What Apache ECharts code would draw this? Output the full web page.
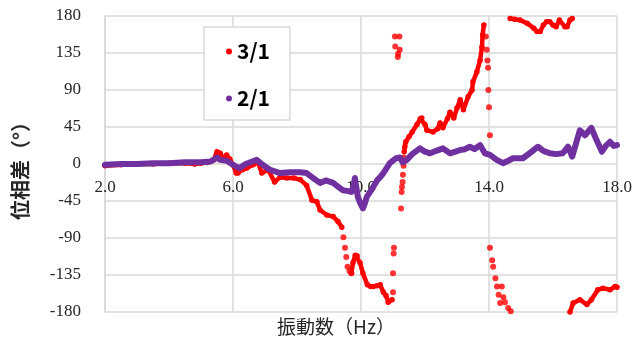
<!DOCTYPE html>
<html>
<head>
<meta charset="utf-8">
<script src="https://cdn.jsdelivr.net/npm/echarts@6/dist/echarts.min.js"></script>
<style>
  html, body { margin: 0; padding: 0; background: #ffffff; }
  #chart { width: 639px; height: 338px; }
</style>
</head>
<body>
<div id="chart"></div>
<script>
// Phase difference (deg) vs. vibration frequency (Hz) for two frequency ratios.

const xTicks = [2, 6, 10, 14, 18];
const yTicks = [-180, -135, -90, -45, 0, 45, 90, 135, 180];

// 3/1 — continuous stretch from 2 Hz down to about -77 deg near 9.4 Hz
const ratio31Low = [
  [2.0, -2], [2.5, -1], [3.0, 0], [3.5, 0], [4.0, 1], [4.5, 1], [4.8, 0], [5.0, 1],
  [5.2, 2], [5.4, 5], [5.5, 15], [5.6, 13], [5.68, 7], [5.8, 11], [5.9, 6], [6.0, -1],
  [6.1, -11], [6.16, -11], [6.3, -7], [6.43, -5], [6.63, -1], [6.78, 2], [6.9, -11],
  [7.1, -7], [7.3, -22], [7.47, -16], [7.68, -17], [7.9, -17], [8.1, -19], [8.3, -26],
  [8.47, -44], [8.62, -46], [8.72, -56], [8.93, -62], [9.13, -64], [9.28, -70], [9.4, -77]
];
// 3/1 — steep drop drawn as separate points, then the low plateau
const ratio31Drop = [
  [9.45, -89], [9.5, -102], [9.54, -113], [9.58, -125], [9.64, -130], [9.7, -133]
];
const ratio31Plateau = [
  [9.7, -133], [9.75, -120], [9.82, -111], [9.88, -112], [9.97, -120], [10.06, -133],
  [10.2, -147], [10.3, -149], [10.38, -149], [10.5, -148], [10.6, -147], [10.7, -156],
  [10.78, -160], [10.85, -168], [10.97, -165]
];
// 3/1 — scattered points around the wrap near 11 Hz
const ratio31Wrap1 = [
  [11.0, -156], [11.0, -133], [11.02, -109], [11.03, -102],
  [11.06, 155], [11.07, 143], [11.2, 155], [11.21, 139], [11.15, 130], [11.16, 134],
  [11.25, -54], [11.27, -34], [11.28, -28], [11.3, -22], [11.31, -13], [11.33, -2], [11.34, 8]
];
// 3/1 — rising stretch up to about 170 deg before 14 Hz
const ratio31Rise = [
  [11.35, 15], [11.37, 21], [11.4, 27], [11.5, 33], [11.6, 39], [11.75, 48], [11.85, 55],
  [11.9, 56], [12.0, 48], [12.06, 41], [12.25, 39], [12.4, 43], [12.47, 50], [12.56, 44],
  [12.7, 55], [12.78, 63], [12.9, 56], [13.0, 68], [13.1, 78], [13.2, 66], [13.35, 82],
  [13.47, 90], [13.5, 100], [13.62, 112], [13.72, 126], [13.78, 142], [13.8, 157], [13.84, 169]
];
// 3/1 — scattered points across the wrap near 14 Hz
const ratio31Wrap2 = [
  [13.9, 155], [13.93, 139], [13.95, 126], [13.97, 117], [13.98, 90], [14.0, 69], [14.03, 35],
  [14.03, -102], [14.1, -117], [14.13, -125], [14.2, -139], [14.25, -149], [14.3, -159],
  [14.35, -169], [14.4, -149], [14.45, -162], [14.5, -168], [14.6, -175], [14.68, -179]
];
// 3/1 — near +180 between 14.7 and 16.6 Hz
const ratio31Top = [
  [14.66, 177], [14.8, 176], [14.97, 175], [15.2, 171], [15.4, 165], [15.5, 161], [15.6, 161],
  [15.7, 169], [15.8, 173], [15.9, 173], [16.0, 169], [16.1, 167], [16.2, 175], [16.37, 167],
  [16.44, 167], [16.53, 175], [16.6, 177]
];
// 3/1 — near -180 up to 18 Hz
const ratio31Tail = [
  [16.53, -180], [16.63, -169], [16.84, -165], [17.06, -171], [17.2, -165], [17.4, -153],
  [17.56, -151], [17.78, -153], [17.94, -149], [18.0, -150]
];

// 2/1
const ratio21 = [
  [2.0, -1], [2.5, 0], [3.0, 0], [3.5, 1], [4.0, 1], [4.5, 2], [5.0, 2], [5.3, 3], [5.5, 8],
  [5.6, 5], [5.8, 4], [6.0, -1], [6.2, -5], [6.4, 0], [6.6, 3], [6.74, 5], [6.9, 0], [7.0, -3],
  [7.16, -7], [7.47, -11], [7.8, -10], [8.1, -10], [8.3, -11], [8.5, -17], [8.72, -23],
  [8.9, -20], [9.13, -23], [9.3, -28], [9.44, -32], [9.6, -33], [9.7, -34], [9.78, -25],
  [9.81, -17], [9.86, -30], [9.9, -40], [9.98, -48], [10.06, -54], [10.12, -48], [10.18, -40],
  [10.25, -36], [10.38, -28], [10.5, -20], [10.6, -16], [10.7, -11], [10.9, 1], [11.1, 7],
  [11.22, 8], [11.3, 2], [11.43, 5], [11.6, 12], [11.84, 19], [12.0, 15], [12.16, 13],
  [12.35, 16], [12.56, 19], [12.78, 13], [12.95, 15], [13.1, 17], [13.25, 18], [13.4, 21],
  [13.55, 18], [13.72, 23], [13.87, 13], [14.03, 11], [14.24, 5], [14.44, 1], [14.6, 4],
  [14.75, 7], [15.06, 7], [15.3, 14], [15.53, 21], [15.7, 16], [15.9, 13], [16.1, 12],
  [16.3, 13], [16.47, 21], [16.6, 9], [16.72, 25], [16.84, 41], [17.0, 35], [17.2, 44],
  [17.35, 30], [17.53, 15], [17.65, 22], [17.78, 27], [17.9, 22], [18.0, 23]
];

const RED = '#ff0000';
const PURPLE = '#7030a0';
const GRID = '#d9d9d9';
const serif = '"Liberation Serif", "DejaVu Serif", serif';
const gothic = '"Noto Sans CJK JP", "Noto Sans", sans-serif';

const gridBox = { left: 105, right: 22, top: 16, bottom: 26 };
// frequency labels sit on the 0 deg line, half way down the plot
const zeroLineOffset = -(338 - gridBox.top - gridBox.bottom) / 2;

function redLine(data) {
  return {
    name: '3/1', type: 'line', data: data, color: RED,
    lineStyle: { width: 4.5, color: RED, cap: 'round', join: 'round' },
    symbol: 'circle', symbolSize: 5.5, showSymbol: true, showAllSymbol: true,
    itemStyle: { color: RED }, z: 3, silent: true
  };
}
function redDots(data) {
  return {
    name: '3/1', type: 'scatter', data: data, color: RED,
    symbol: 'circle', symbolSize: 6, itemStyle: { color: RED }, z: 3, silent: true
  };
}

const chart = echarts.init(document.getElementById('chart'), null, { renderer: 'canvas' });
chart.setOption({
  animation: false,
  backgroundColor: '#ffffff',
  grid: Object.assign({ containLabel: false }, gridBox),
  xAxis: {
    type: 'value', min: xTicks[0], max: xTicks[xTicks.length - 1], interval: 4,
    position: 'bottom', offset: zeroLineOffset,
    axisLine: { show: false },
    axisTick: { show: false },
    splitLine: { show: true, lineStyle: { color: GRID, width: 1.5 } },
    axisLabel: {
      margin: 15, fontFamily: serif, fontSize: 17, color: '#262626',
      formatter: v => v.toFixed(1)
    }
  },
  yAxis: {
    type: 'value', min: yTicks[0], max: yTicks[yTicks.length - 1], interval: 45,
    axisLine: { show: true, onZero: false, lineStyle: { color: GRID, width: 1.5 } },
    axisTick: { show: false },
    splitLine: { show: true, lineStyle: { color: GRID, width: 1.5 } },
    axisLabel: { margin: 24, fontFamily: serif, fontSize: 17, color: '#262626' }
  },
  legend: {
    orient: 'vertical', left: 204, top: 27,
    padding: [14, 20, 11, 22], itemGap: 26,
    itemWidth: 6, itemHeight: 6,
    backgroundColor: '#ffffff', borderColor: GRID, borderWidth: 1.5,
    data: [{ name: '3/1', icon: 'circle' }, { name: '2/1', icon: 'circle' }],
    textStyle: { fontFamily: gothic, fontWeight: 'bold', fontSize: 21, color: '#000000' },
    selectedMode: false
  },
  graphic: [
    {
      type: 'text', x: 20, y: 166, rotation: Math.PI / 2,
      style: {
        text: '位相差（°）', fontFamily: gothic, fontWeight: 'bold', fontSize: 20,
        fill: '#262626', align: 'center', verticalAlign: 'middle'
      }
    },
    {
      type: 'text', x: 336, y: 327,
      style: {
        text: '振動数（Hz）', fontFamily: gothic, fontSize: 19,
        fill: '#262626', align: 'center', verticalAlign: 'middle'
      }
    }
  ],
  series: [
    redLine(ratio31Low),
    redDots(ratio31Drop),
    redLine(ratio31Plateau),
    redDots(ratio31Wrap1),
    redLine(ratio31Rise),
    redDots(ratio31Wrap2),
    redLine(ratio31Top),
    redLine(ratio31Tail),
    {
      name: '2/1', type: 'line', data: ratio21, color: PURPLE,
      lineStyle: { width: 6, color: PURPLE, cap: 'round', join: 'round' },
      showSymbol: false, itemStyle: { color: PURPLE }, z: 4, silent: true
    }
  ]
});
</script>
</body>
</html>
